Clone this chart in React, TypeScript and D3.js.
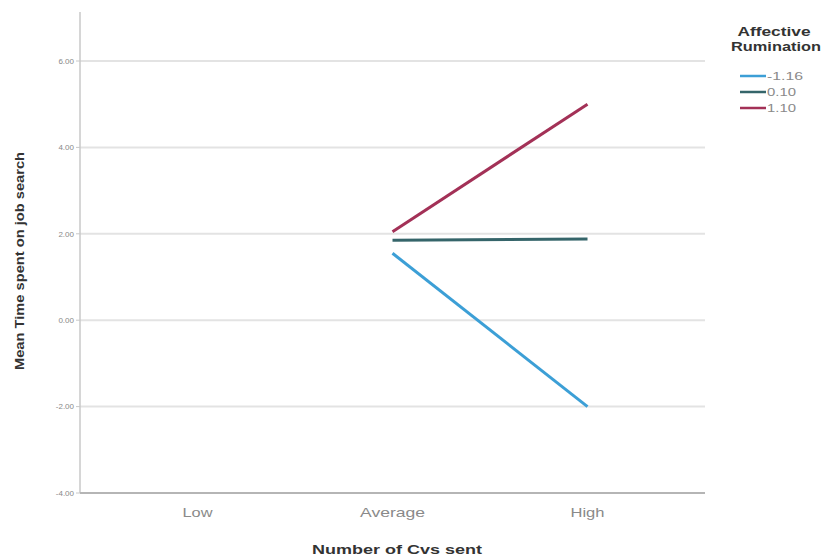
import React from "react";
import * as d3 from "d3";

const categories = ["Low", "Average", "High"];
const seriesNames = ["-1.16", "0.10", "1.10"];
const seriesColors = ["#3c9fd6", "#35656a", "#a33157"];
const seriesCats = ["Average", "High"];
const seriesM116 = [1.55, -2.0];
const series010 = [1.85, 1.88];
const series110 = [2.05, 5.0];
const yTicks = [-4, -2, 0, 2, 4, 6];

const W = 822, H = 560;
const plotLeft = 80, plotRight = 705, plotTop = 12, plotBottom = 493;

export default function App() {
  const x = d3.scaleBand<string>().domain(categories).range([100, 685]);
  const y = d3.scaleLinear().domain([-4, 6]).range([493, 61]);
  const cx = (c: string) => (x(c) as number) + x.bandwidth() / 2;
  const line = d3.line<[string, number]>().x((d) => cx(d[0])).y((d) => y(d[1]));
  const all = [seriesM116, series010, series110];
  const font = "Arial, 'Liberation Sans', sans-serif";
  const catLen: Record<string, number> = { Low: 30, Average: 65, High: 34 };
  return (
    <svg width={W} height={H} style={{ position: "absolute", left: 0, top: 0, background: "#fff" }} fontFamily={font}>
      {yTicks.filter((t) => t > -4).map((t) => (
        <line key={"g" + t} x1={plotLeft} x2={plotRight} y1={y(t)} y2={y(t)} stroke="#e3e3e3" strokeWidth={2} />
      ))}
      <line x1={plotLeft} x2={plotLeft} y1={plotTop} y2={plotBottom} stroke="#c8c8c8" strokeWidth={1.5} />
      <line x1={plotLeft} x2={plotRight} y1={plotBottom} y2={plotBottom} stroke="#b5b5b5" strokeWidth={2} />
      {yTicks.map((t) => (
        <g key={"t" + t}>
          <line x1={plotLeft - 4} x2={plotLeft} y1={y(t)} y2={y(t)} stroke="#c8c8c8" />
          <text x={plotLeft - 6} y={y(t)} dy="0.35em" textAnchor="end" fontSize={8} fill="#888">{t.toFixed(2)}</text>
        </g>
      ))}
      {categories.map((c) => (
        <text key={c} x={cx(c)} y={517} textAnchor="middle" fontSize={13} fill="#8a8a8a" textLength={catLen[c]} lengthAdjust="spacingAndGlyphs">{c}</text>
      ))}
      <text x={397} y={554} textAnchor="middle" fontSize={13} fontWeight="bold" fill="#333" textLength={170} lengthAdjust="spacingAndGlyphs">Number of Cvs sent</text>
      <text transform={`translate(24,261) rotate(-90)`} textAnchor="middle" fontSize={13} fontWeight="bold" fill="#333" textLength={218} lengthAdjust="spacingAndGlyphs">Mean Time spent on job search</text>
      {all.map((vals, i) => (
        <path key={i} d={line(seriesCats.map((c, j) => [c, vals[j]] as [string, number])) || ""} fill="none" stroke={seriesColors[i]} strokeWidth={3} />
      ))}
      <text x={774} y={36} textAnchor="middle" fontSize={12} fontWeight="bold" fill="#333" textLength={73} lengthAdjust="spacingAndGlyphs">Affective</text>
      <text x={776} y={51} textAnchor="middle" fontSize={12} fontWeight="bold" fill="#333" textLength={90} lengthAdjust="spacingAndGlyphs">Rumination</text>
      {seriesNames.map((n, i) => (
        <g key={n}>
          <line x1={740} x2={766} y1={76 + i * 16} y2={76 + i * 16} stroke={seriesColors[i]} strokeWidth={2.5} />
          <text x={767} y={76 + i * 16} dy="0.35em" fontSize={11} fill="#8a8a8a" textLength={n.length > 4 ? 36 : 29} lengthAdjust="spacingAndGlyphs">{n}</text>
        </g>
      ))}
    </svg>
  );
}
